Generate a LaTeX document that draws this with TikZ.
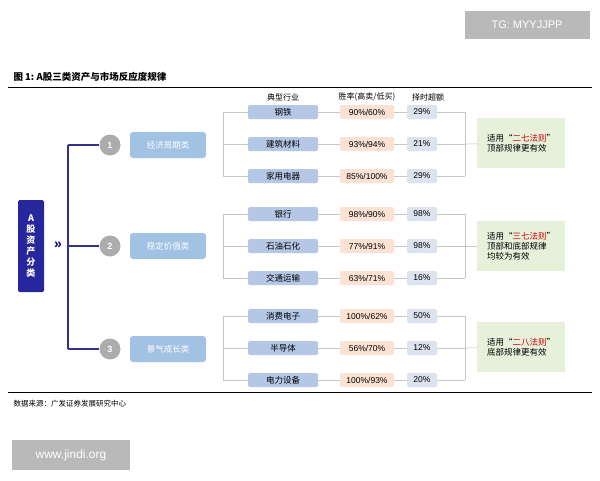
\documentclass[tikz,border=0pt]{standalone}
\usepackage{fontspec}
\setmainfont{Liberation Sans}
\newfontfamily\cjk{Noto Sans CJK SC}
\definecolor{indc}{HTML}{B4C8E6}
\definecolor{catc}{HTML}{A2C2E4}
\definecolor{extc}{HTML}{DCE3EF}
\definecolor{ratc}{HTML}{FBE2D2}
\definecolor{grnc}{HTML}{E6F0DA}
\begin{document}
\begin{tikzpicture}[x=1pt,y=-1pt,font=\cjk\fontsize{8.5}{10}\selectfont,
 ind/.style={draw=none,fill=indc,minimum width=70,minimum height=14,inner sep=0,rounded corners=1.5},
 rate/.style={fill=ratc,minimum width=54,minimum height=14,inner sep=0,rounded corners=1.5,font=\fontsize{8.5}{10}\selectfont},
 ext/.style={fill=extc,minimum width=30,minimum height=14,inner sep=0,rounded corners=1.5,font=\fontsize{8.5}{10}\selectfont},
 cat/.style={fill=catc,text=white,minimum width=76,minimum height=26,rounded corners=3,inner sep=0},
 circ/.style={circle,fill=gray!65,text=white,minimum size=21,inner sep=0,font=\bfseries\fontsize{9}{10}\selectfont},
 grn/.style={fill=grnc,minimum width=88,minimum height=50,inner sep=2,align=left},
 tree/.style={draw=blue!40!black!80,line width=1.2},
 lnk/.style={draw=gray!45,line width=0.6}]
\useasboundingbox (0,0) rectangle (600,480);
\fill[white] (0,0) rectangle (600,480);
\node[fill=gray!55,text=white,minimum width=125,minimum height=28,font=\fontsize{11}{12}\selectfont] (tg) at (527,25) {TG: MYYJJPP};
\node[fill=gray!55,text=white,minimum width=118,minimum height=30,font=\fontsize{12}{13}\selectfont] (www) at (71,455) {www.jindi.org};
\node[anchor=west,font=\cjk\bfseries\fontsize{9.5}{11}\selectfont] (title) at (10,77) {图\ 1:\ A股三类资产与市场反应度规律};
\draw[line width=1] (8,87) -- (592,87);
\draw[line width=0.8] (8,392) -- (592,392);
\node[anchor=west,font=\cjk\fontsize{7.5}{9}\selectfont] (src) at (10,404) {数据来源：广发证券发展研究中心};
\node[fill=blue!55!black!85,text=white,minimum width=26,minimum height=92,align=center,inner sep=0,rounded corners=1.5,font=\cjk\bfseries\fontsize{9}{11}\selectfont] (A) at (31,246) {A\\股\\资\\产\\分\\类};
\node[text=blue!55!black,font=\bfseries\fontsize{14}{14}\selectfont] (chev) at (58,245) {»};
\node[font=\cjk\fontsize{8}{10}\selectfont] (h1) at (283,97) {典型行业};
\node[font=\cjk\fontsize{8}{10}\selectfont] (h2) at (367,97) {胜率(高卖/低买)};
\node[font=\cjk\fontsize{8}{10}\selectfont] (h3) at (428,97) {择时超额};
\coordinate (tt) at (68,145); \coordinate (tb) at (68,349);
\draw[tree] (tt) -- (tb);
\foreach \i/\y/\c in {1/145/经济周期类,2/246/稳定价值类,3/349/景气成长类}{
 \node[circ] (c\i) at (110,\y) {\i};
 \node[cat] (k\i) at (168,\y) {\c};
 \coordinate (t\i) at (68,\y);
 \draw[tree] (t\i) -- (c\i);
}
\newcommand\rowx[5]{%
 \node[ind] (i#1) at (283,#2) {#3};
 \node[rate] (r#1) at (367,#2) {#4};
 \node[ext] (e#1) at (422,#2) {#5};
 \draw[lnk] (i#1) -- (r#1); \draw[lnk] (r#1) -- (e#1);
 \coordinate (L#1) at (223,#2); \coordinate (R#1) at (465,#2);
 \draw[lnk] (L#1) -- (i#1.west); \draw[lnk] (e#1.east) -- (R#1);}
\rowx{a}{112}{钢铁}{90\%/60\%}{29\%}
\rowx{b}{144}{建筑材料}{93\%/94\%}{21\%}
\rowx{c}{176}{家用电器}{85\%/100\%}{29\%}
\rowx{d}{214}{银行}{98\%/90\%}{98\%}
\rowx{e}{246}{石油石化}{77\%/91\%}{98\%}
\rowx{f}{278}{交通运输}{63\%/71\%}{16\%}
\rowx{g}{316}{消费电子}{100\%/62\%}{50\%}
\rowx{h}{348}{半导体}{56\%/70\%}{12\%}
\rowx{i}{380}{电力设备}{100\%/93\%}{20\%}
\draw[lnk] (La) -- (Lc); \draw[lnk] (Ra) -- (Rc);
\draw[lnk] (Ld) -- (Lf); \draw[lnk] (Rd) -- (Rf);
\draw[lnk] (Lg) -- (Li); \draw[lnk] (Rg) -- (Ri);
\node[grn] (g1) at (521,143) {适用“\textcolor{red!80!black}{二七法则}”\\顶部规律更有效};
\node[grn] (g2) at (521,246) {适用“\textcolor{red!80!black}{三七法则}”\\顶部和底部规律\\均较为有效};
\node[grn] (g3) at (521,347) {适用“\textcolor{red!80!black}{二八法则}”\\底部规律更有效};
\coordinate (m1) at (465,144); \coordinate (m2) at (465,246); \coordinate (m3) at (465,348);
\draw[lnk] (m1) -- (g1); \draw[lnk] (m2) -- (g2); \draw[lnk] (m3) -- (g3);
\end{tikzpicture}
\end{document}
